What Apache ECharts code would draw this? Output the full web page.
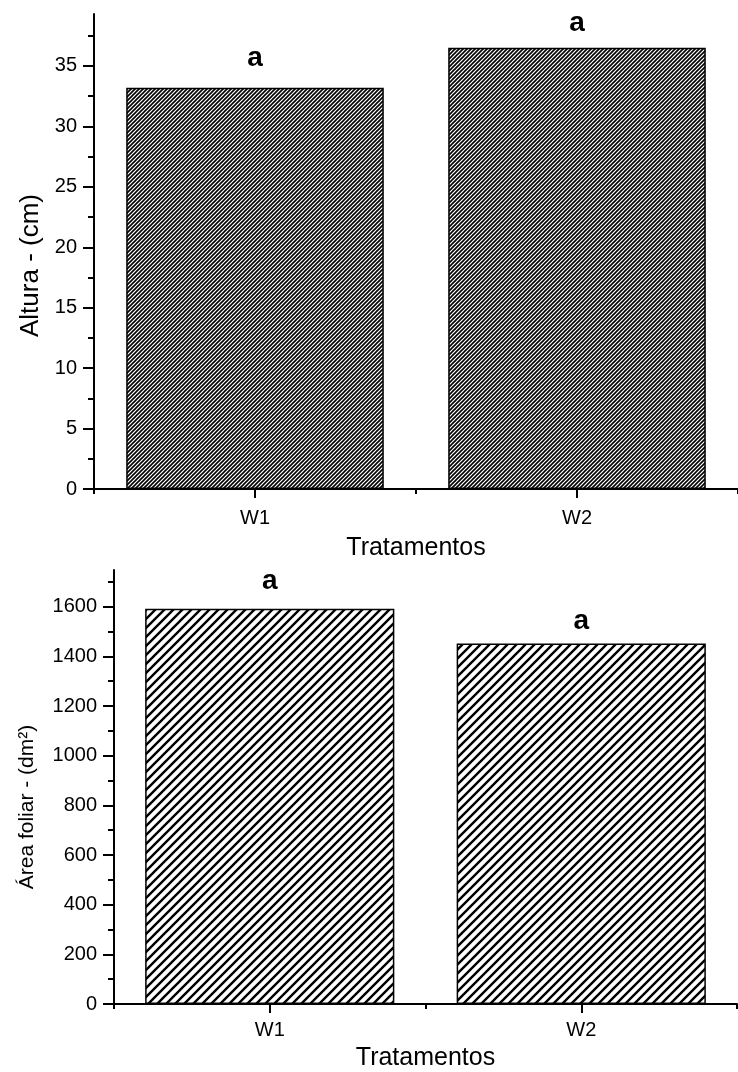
<!DOCTYPE html>
<html>
<head>
<meta charset="utf-8">
<script src="https://cdn.jsdelivr.net/npm/echarts@6/dist/echarts.min.js"></script>
<style>
html,body{margin:0;padding:0;background:#fff;}
#chart{width:738px;height:1072px;}
</style>
</head>
<body>
<div id="chart"></div>
<script>
// ---- data ----
const categories = ['W1', 'W2'];
const alturaValues = [33.2, 36.5];
const areaValues = [1592, 1452];
const alturaLetters = ['a', 'a'];
const areaLetters = ['a', 'a'];
const alturaMajorTicks = [0, 5, 10, 15, 20, 25, 30, 35];
const alturaMinorTicks = [2.5, 7.5, 12.5, 17.5, 22.5, 27.5, 32.5, 37.5];
const areaMajorTicks = [0, 200, 400, 600, 800, 1000, 1200, 1400, 1600];
const areaMinorTicks = [100, 300, 500, 700, 900, 1100, 1300, 1500, 1700];
const alturaMax = 39.3;
const areaMax = 1748;

// label offsets above bars (style only)
const alturaLabelGap = [15, 11];
const areaLabelGap = [13, 8];

// ---- hatch patterns ----
function hatch(p, lw) {
  const c = document.createElement('canvas');
  c.width = p; c.height = p;
  const ctx = c.getContext('2d');
  ctx.fillStyle = '#fff';
  ctx.fillRect(0, 0, p, p);
  ctx.strokeStyle = '#000';
  ctx.lineWidth = lw;
  ctx.beginPath();
  ctx.moveTo(0, p); ctx.lineTo(p, 0);
  ctx.moveTo(-p / 2, p / 2); ctx.lineTo(p / 2, -p / 2);
  ctx.moveTo(p / 2, p * 1.5); ctx.lineTo(p * 1.5, p / 2);
  ctx.stroke();
  return c;
}
const denseHatch = hatch(4, 1.6);
const openHatch = hatch(9, 2.4);

const FONT = 'Liberation Sans, Arial, sans-serif';

function yMajor(grid, max, ticks, name, nameSize, nameGap, namePad) {
  return {
    type: 'value', gridIndex: grid, min: 0, max: max, position: 'left',
    name: name, nameLocation: 'middle', nameGap: nameGap,
    nameTextStyle: { fontFamily: FONT, fontSize: nameSize, color: '#000', padding: namePad },
    axisLine: { show: true, lineStyle: { color: '#000', width: 2 } },
    axisTick: { show: true, length: 11, customValues: ticks, lineStyle: { color: '#000', width: 2 } },
    axisLabel: { show: true, customValues: ticks, margin: 17, formatter: v => String(v),
      fontFamily: FONT, fontSize: 20, color: '#000' },
    splitLine: { show: false }
  };
}
function yMinor(grid, max, ticks) {
  return {
    type: 'value', gridIndex: grid, min: 0, max: max, position: 'left',
    axisLine: { show: false },
    axisTick: { show: true, length: 6, customValues: ticks, lineStyle: { color: '#000', width: 2 } },
    axisLabel: { show: false },
    splitLine: { show: false }
  };
}
function xMain(grid, margin, nameGap) {
  return {
    type: 'category', gridIndex: grid, data: categories, position: 'bottom',
    name: 'Tratamentos', nameLocation: 'middle', nameGap: nameGap,
    nameTextStyle: { fontFamily: FONT, fontSize: 25, color: '#000' },
    axisLine: { show: true, lineStyle: { color: '#000', width: 2 } },
    axisTick: { show: true, alignWithLabel: true, length: 9, lineStyle: { color: '#000', width: 2 } },
    axisLabel: { margin: margin, fontFamily: FONT, fontSize: 20, color: '#000' },
    splitLine: { show: false }
  };
}
function xBoundary(grid) {
  return {
    type: 'category', gridIndex: grid, data: categories, position: 'bottom',
    axisLine: { show: false },
    axisTick: { show: true, alignWithLabel: false, interval: 0, length: 5, lineStyle: { color: '#000', width: 2 } },
    axisLabel: { show: false },
    splitLine: { show: false }
  };
}
function barData(values, gaps) {
  return values.map((v, i) => ({ value: v, label: { distance: gaps[i] } }));
}

const option = {
  animation: false,
  backgroundColor: '#fff',
  grid: [
    { left: 94, right: 0, top: 14, height: 475 },
    { left: 114, right: 1, top: 570, height: 439 }
  ],
  xAxis: [xMain(0, 19, 47), xBoundary(0), xMain(1, 16, 42), xBoundary(1)],
  yAxis: [
    yMajor(0, alturaMax, alturaMajorTicks, 'Altura - (cm)', 26, 50, [0, 28, 0, 0]),
    yMinor(0, alturaMax, alturaMinorTicks),
    yMajor(1, areaMax, areaMajorTicks, 'Área foliar - (dm²)', 21, 76, [0, 40, 0, 0]),
    yMinor(1, areaMax, areaMinorTicks)
  ],
  series: [
    {
      type: 'bar', xAxisIndex: 0, yAxisIndex: 0, data: barData(alturaValues, alturaLabelGap), barWidth: '80%',
      itemStyle: { color: { image: denseHatch, repeat: 'repeat' }, borderColor: '#000', borderWidth: 1.5 },
      label: { show: true, position: 'top', formatter: p => alturaLetters[p.dataIndex],
        fontFamily: FONT, fontSize: 28, fontWeight: 'bold', color: '#000' }
    },
    {
      type: 'bar', xAxisIndex: 2, yAxisIndex: 2, data: barData(areaValues, areaLabelGap), barWidth: '80%',
      itemStyle: { color: { image: openHatch, repeat: 'repeat' }, borderColor: '#000', borderWidth: 1.5 },
      label: { show: true, position: 'top', formatter: p => areaLetters[p.dataIndex],
        fontFamily: FONT, fontSize: 28, fontWeight: 'bold', color: '#000' }
    }
  ]
};

const chart = echarts.init(document.getElementById('chart'), null, { renderer: 'canvas' });
chart.setOption(option);
</script>
</body>
</html>
